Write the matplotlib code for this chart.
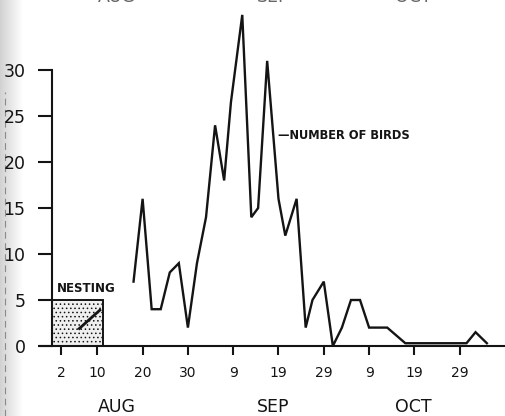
import numpy as np
import matplotlib
matplotlib.use("Agg")
import matplotlib.pyplot as plt
from matplotlib.patches import Rectangle
from matplotlib.transforms import blended_transform_factory

# Day counted from 31 July (Aug 2 = 2, Sep 9 = 40, Oct 9 = 70)
days = [18, 20, 22, 24, 26, 28, 30, 32, 34, 36, 38, 39.5, 42, 44, 45.5, 47.5,
        50, 51.5, 54, 56, 57.5, 60, 62, 64, 66, 68, 70, 74, 78, 90, 91.5, 93.5, 96]
birds = [7, 16, 4, 4, 8, 9, 2, 9, 14, 24, 18, 26.5, 36, 14, 15, 31,
         16, 12, 16, 2, 5, 7, 0, 2, 5, 5, 2, 2, 0.3, 0.3, 0.3, 1.5, 0.3]

tick_days = [2, 10, 20, 30, 40, 50, 60, 70, 80, 90]
tick_labels = ["2", "10", "20", "30", "9", "19", "29", "9", "19", "29"]
y_ticks = [0, 5, 10, 15, 20, 25, 30]

months = ["AUG", "SEP", "OCT"]
month_days = [14.3, 48.8, 79.7]

nesting_end = 11.2
nesting_height = 5

ink = "#141414"
plt.rcParams["hatch.color"] = "#bdbdbd"
plt.rcParams["hatch.linewidth"] = 0.6

fig = plt.figure(figsize=(5.06, 4.16), dpi=100)
ax = fig.add_axes([0.0795, 0.1683, 0.9185, 0.818])
ax.set_xlim(-2.6, 100)
ax.set_ylim(0, 37)

# bird counts
ax.plot(days, birds, color=ink, lw=1.7, solid_joinstyle="miter", clip_on=False, zorder=3)

# nesting period box
ax.add_patch(Rectangle((0, 0), nesting_end, nesting_height, facecolor="#efefef",
                       edgecolor=ink, lw=1.4, hatch="....", zorder=2))
ax.plot([5.8, 10.8], [1.8, 4.0], color=ink, lw=2, solid_capstyle="butt", zorder=3)
ax.text(1.0, 6.2, "NESTING", fontsize=8.5, fontweight="bold", color=ink,
        ha="left", va="center")

ax.text(50.0, 22.9, "\u2014NUMBER OF BIRDS", fontsize=8.3, fontweight="bold",
        color=ink, ha="left", va="center")

# axes styling
for s in ["top", "right"]:
    ax.spines[s].set_visible(False)
ax.spines["left"].set_position(("data", 0))
ax.spines["left"].set_bounds(0, 30)
ax.spines["left"].set_linewidth(1.5)
ax.spines["bottom"].set_linewidth(1.5)
ax.spines["left"].set_color(ink)
ax.spines["bottom"].set_color(ink)

ax.set_xticks(tick_days)
ax.set_xticklabels(tick_labels)
ax.set_yticks(y_ticks)
ax.tick_params(axis="x", direction="out", length=6.5, width=1.5, pad=8,
               labelsize=10, colors=ink)
ax.tick_params(axis="y", direction="out", length=10, width=1.5, pad=9,
               labelsize=12.5, colors=ink)

tr = blended_transform_factory(ax.transData, fig.transFigure)
for m, d in zip(months, month_days):
    ax.text(d, 0.021, m, transform=tr, fontsize=12.5, color=ink,
            ha="center", va="center")
    # month names of the chart above, trimmed by the page edge
    ax.text(d, 1 - 1.5 / 416, m, transform=tr, fontsize=12.5, color="#666666",
            ha="center", va="baseline", clip_on=False)

# shaded page edge on the left
edge = fig.add_axes([0, 0, 0.045, 1], zorder=-1)
grad = np.linspace(0.78, 1.0, 64) ** 0.8
edge.imshow(np.tile(grad, (8, 1)), cmap="gray", vmin=0, vmax=1,
            aspect="auto", extent=[0, 1, 0, 1])
edge.axvline(0.2, ymin=0.0, ymax=0.78, color="#8a8a8a", lw=0.8,
             ls=(0, (6, 4)))
edge.set_axis_off()

fig.savefig("out.png", dpi=100)
